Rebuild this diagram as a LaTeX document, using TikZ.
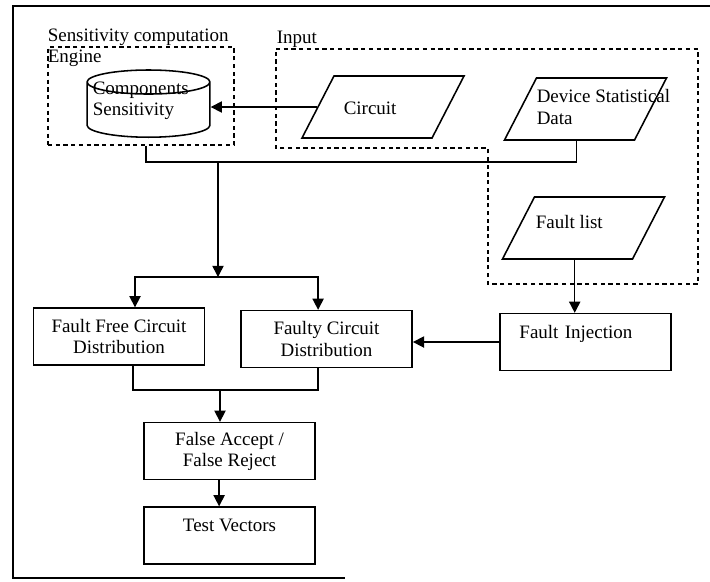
\documentclass[tikz,border=0pt]{standalone}
\usepackage{fontspec}
\setmainfont{Liberation Serif}
\usetikzlibrary{shapes.geometric,positioning,arrows.meta}

\begin{document}
\begin{tikzpicture}[x=0.025cm,y=-0.025cm,
    font=\fontsize{13.5}{15}\selectfont,
    line width=1.1pt,
    >={Triangle[length=8pt,width=8pt]},
    procbox/.style={draw, minimum width=4.28cm, minimum height=1.42cm, align=center},
    databox/.style={draw, transform shape, xslant=0.516,
        minimum width=3.25cm, minimum height=1.55cm},
    dashbox/.style={draw, dash pattern=on 3pt off 2.5pt},
    plaintext/.style={inner sep=0pt, align=left}
]
\useasboundingbox (0,0) rectangle (710,581);

% outer frame
\draw (710,6) -- (13,6) -- (13,578) -- (345,578);

% computation engine
\node[dashbox,
    minimum width=4.65cm,
    minimum height=2.45cm
] (engine) at (141,96) {};

\node[plaintext, anchor=north west] (enginelbl) at (47,28) {Sensitivity computation\\Engine};

\node[draw,
    cylinder,
    shape border rotate=90,
    aspect=0.2,
    minimum width=3.07cm,
    minimum height=1.68cm,
    inner xsep=1.5cm,
    inner ysep=0.5cm
] (cyl) at (148.5,116) {};
\node[plaintext, anchor=west] (cyltxt) at (92,101) {Components\\Sensitivity};

% input region
\node[plaintext, anchor=north west] (inputlbl) at (276,30) {Input};
\draw[dashbox] (276,49) -- (698,49) -- (698,284) -- (488,284)
    -- (488,148) -- (276,148) -- cycle;

\begin{scope}[shift={(383,107)}]
\node[databox] (circuit) {};
\end{scope}
\node[plaintext, anchor=west] (circuittxt) at (343,108) {Circuit};

\begin{scope}[shift={(585.5,109)}]
\node[databox] (device) {};
\end{scope}
\node[plaintext, anchor=west] (devicetxt) at (536,107) {Device Statistical\\Data};

\begin{scope}[shift={(583.5,228)}]
\node[databox] (flist) {};
\end{scope}
\node[plaintext, anchor=west] (flisttxt) at (535,222) {Fault list};

% processing
\node[procbox] (free) at (119,336.5) {Fault Free Circuit\\Distribution};
\node[procbox] (faulty) at (326.5,339) {Faulty Circuit\\Distribution};
\node[procbox,
    text width=3.3cm,
    align=left
] (inject) at (585.5,342) {Fault Injection\\\mbox{}};
\node[procbox] (accept) at (229.5,451) {False Accept /\\False Reject};
\node[procbox] (tests) at (229.5,535.5) {Test Vectors\\\mbox{}};

\coordinate (split) at (218,162);
\coordinate (fork) at (218,277);
\coordinate (merge) at (220,390);

\draw[->] (circuit.west) -- (circuit.west -| cyl.east);

\draw ([xshift=0.125cm]engine.south) |- (split) -| ([xshift=0.19cm]device.south);
\draw[->] (split) -- (fork);
\draw[->] (fork) -| ([xshift=0.4cm]free.north);
\draw[->] (fork) -| ([xshift=-0.21cm]faulty.north);

\draw[->] ([xshift=0.19cm]flist.south) -- ([xshift=0.19cm]flist.south |- inject.north);
\draw[->] (inject.west) -- (inject.west -| faulty.east);

\draw ([xshift=0.35cm]free.south) |- (merge) -| ([xshift=-0.21cm]faulty.south);
\draw[->] (merge) -- (merge |- accept.north);
\draw[->] ([xshift=-0.26cm]accept.south) -- ([xshift=-0.26cm]tests.north);

\end{tikzpicture}
\end{document}
